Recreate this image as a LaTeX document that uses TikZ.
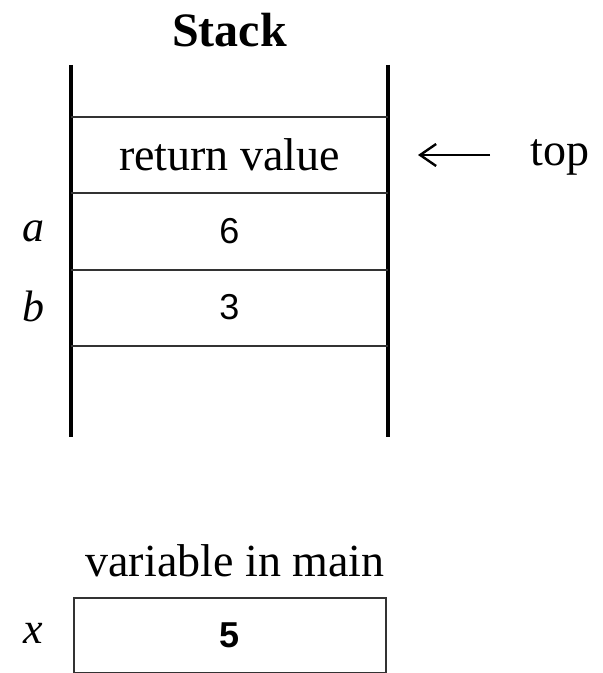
\documentclass[tikz,border=0pt]{standalone}
\usepackage{fontspec}
\setmainfont{Liberation Serif}
\newfontfamily\digitfont{Liberation Sans}
\usetikzlibrary{arrows.meta, positioning}

\tikzset{
  wall/.style={line width=2pt, black},
  slotline/.style={line width=1pt, black!80},
  cell/.style={minimum width=158.5pt, minimum height=38pt, inner sep=0pt},
  textlabel/.style={font=\fontsize{23}{26}\selectfont},
  varname/.style={font=\fontsize{22}{24}\selectfont\itshape},
  value/.style={font=\digitfont\fontsize{18}{20}\selectfont},
}

\begin{document}
\begin{tikzpicture}[x=0.5pt, y=-0.5pt]
  \useasboundingbox (0,0) rectangle (603,673);

  % title
  \node[font=\fontsize{24}{28}\selectfont\bfseries] (title) at (229.5,30) {Stack};

  % stack walls
  \coordinate (wtl) at (71,65);
  \coordinate (wbl) at (71,437);
  \coordinate (wtr) at (388,65);
  \coordinate (wbr) at (388,437);
  \draw[wall] (wtl) -- (wbl);
  \draw[wall] (wtr) -- (wbr);

  % slots
  \node[cell, textlabel] (ret) at (229.5,155) {return value};
  \node[cell, value] (sa) at (229.5,231.5) {6};
  \node[cell, value] (sb) at (229.5,307.5) {3};
  \draw[slotline] (ret.north west) -- (ret.north east);
  \draw[slotline] (ret.south west) -- (ret.south east);
  \draw[slotline] (sa.south west) -- (sa.south east);
  \draw[slotline] (sb.south west) -- (sb.south east);

  % names
  \node[varname] (na) at (33,231) {a};
  \node[varname] (nb) at (33,306) {b};

  % top pointer
  \node[textlabel] (top) at (560,157) {top};
  \coordinate (tail) at (490,155);
  \coordinate (tip) at (418,155);
  \draw[line width=1.2pt, -{Straight Barb[length=8pt, width=11pt]}] (tail) -- (tip);

  % main
  \node[textlabel] (main) at (235,561) {variable in main};
  \node[draw, line width=1pt, black!80, minimum width=156pt, minimum height=37.5pt, inner sep=0pt,
        value, text=black] (bx) at (230,635.5) {\bfseries 5};
  \node[varname] (nx) at (33,633) {x};
\end{tikzpicture}
\end{document}
